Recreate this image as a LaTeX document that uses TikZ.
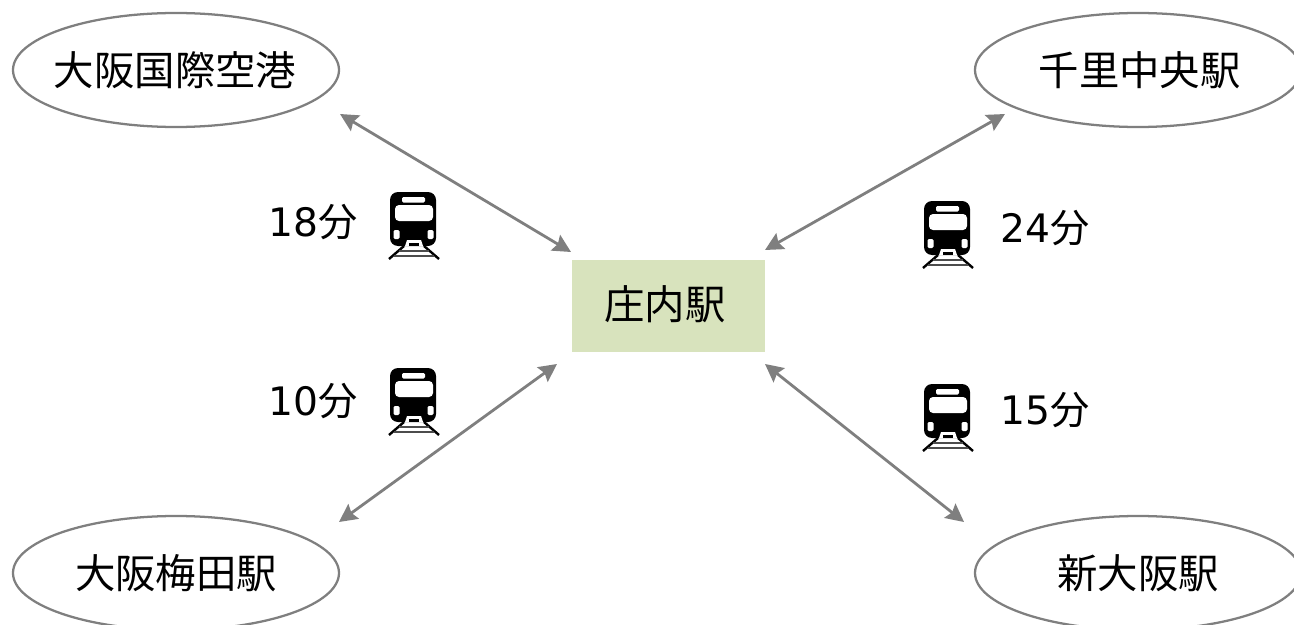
\documentclass[tikz,border=0pt]{standalone}
\usepackage{fontspec}
\setmainfont{DejaVu Sans}
\newfontfamily\cjk{Noto Sans CJK JP}
\usetikzlibrary{shapes.geometric,arrows.meta,calc}
\definecolor{linegray}{HTML}{7F7F7F}
\definecolor{hubgreen}{HTML}{D8E3BD}
\newcommand{\stationtext}[1]{\raisebox{2pt}{\makebox[0pt]{#1}}}
\tikzset{
  x=0.75pt,y=-0.75pt,
  station/.style={ellipse,draw=linegray,line width=1.7pt,fill=white,inner sep=0pt,minimum width=244.5pt,minimum height=85.5pt,font=\fontsize{30.3}{36}\selectfont\cjk,text=black},
  hub/.style={rectangle,fill=hubgreen,inner sep=0pt,minimum width=144.75pt,minimum height=69pt,font=\fontsize{30.3}{36}\selectfont\cjk,text=black},
  conn/.style={draw=linegray,line width=2.1pt,{Stealth[length=13.5pt,width=13.5pt,inset=2pt]}-{Stealth[length=13.5pt,width=13.5pt,inset=2pt]}},
  timelabel/.style={anchor=west,inner sep=0pt,font=\fontsize{29.4}{36}\selectfont,text=black},
  pics/trainicon/.style={code={
    \fill[black,rounded corners=6pt] (-23,-34) rectangle (23,20);
    \fill[white,rounded corners=1pt] (-11,-29) rectangle (12,-23.5);
    \fill[white,rounded corners=3pt] (-18,-21) rectangle (20,-5);
    \fill[white,rounded corners=1pt] (-19.5,4) rectangle (-13.5,13);
    \fill[white,rounded corners=1pt] (14.5,4) rectangle (20.5,13);
    \fill[white] (-8,20) -- (-6,14) -- (8,14) -- (10,20) -- cycle;
    \fill[black] (-4,16.5) rectangle (6,20);
    \draw[black,line width=1.8pt] (-9,20) -- (-24,33);
    \draw[black,line width=1.8pt] (11,20) -- (26,33);
    \draw[black!70,line width=1.3pt] (-14,25) -- (16,25);
    \draw[black!70,line width=1.3pt] (-19,30) -- (21,30);
  }}
}
\begin{document}
\begin{tikzpicture}
\useasboundingbox (0,0) rectangle (1294,624);
\node[hub] (shonai) at (668.5,306) {\raisebox{5.5pt}{\makebox[0pt]{\hspace*{-5pt}庄内駅}}};
\node[station] (itami) at (176,70) {\stationtext{\hspace*{-1.5pt}大阪国際空港}};
\node[station] (senri) at (1138,70) {\stationtext{\hspace*{2.5pt}千里中央駅}};
\node[station] (umeda) at (176,573) {\stationtext{大阪梅田駅}};
\node[station] (shin) at (1138,573) {\stationtext{新大阪駅}};
\draw[conn] ($(itami)+(164,44)$) -- ($(shonai)+(-97.5,-54)$);
\draw[conn] ($(senri)+(-133,44)$) -- ($(shonai)+(96.5,-56)$);
\draw[conn] ($(umeda)+(163,-51)$) -- ($(shonai)+(-111.5,58)$);
\draw[conn] ($(shin)+(-174,-51)$) -- ($(shonai)+(96.5,58)$);
\node[timelabel] (t18) at (268.5,222) {18{\cjk 分}};
\node[timelabel] (t24) at (1000.5,228) {24{\cjk 分}};
\node[timelabel] (t10) at (268.5,401) {10{\cjk 分}};
\node[timelabel] (t15) at (1000.5,410) {15{\cjk 分}};
\pic at (413,226) {trainicon};
\pic at (947,235) {trainicon};
\pic at (413,402) {trainicon};
\pic at (947,418) {trainicon};
\end{tikzpicture}
\end{document}
